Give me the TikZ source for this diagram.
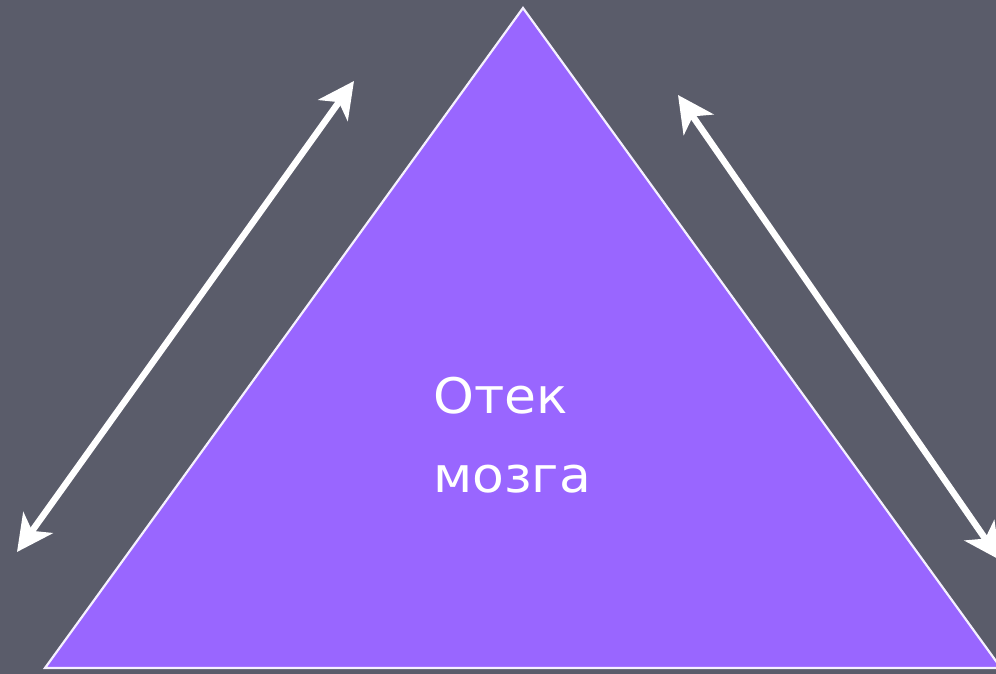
\documentclass[tikz,border=0pt]{standalone}
\usepackage{fontspec}
\setmainfont{DejaVu Sans}
\usetikzlibrary{arrows.meta}
\definecolor{bgc}{HTML}{5A5C6A}
\definecolor{tric}{HTML}{9966FF}
\tikzset{
  tip/.tip={Stealth[length=36pt,width=36pt,inset=10pt]},
  dblarrow/.style={draw=white, line width=6.5pt, tip-tip},
  label/.style={text=white, font=\fontsize{49}{79}\selectfont, align=left, inner sep=0pt}
}
\begin{document}
\begin{tikzpicture}[x=1pt,y=-1pt]
\fill[bgc] (0,0) rectangle (996,674);
\useasboundingbox (0,0) rectangle (996,674);
\coordinate (A) at (523,8);
\coordinate (B) at (45,668);
\coordinate (C) at (1001,668);
\filldraw[fill=tric, draw=white!90!tric, line width=2.2pt] (A) -- (B) -- (C) -- cycle;
\node[label, anchor=base west] (lbl) at (433,492) {\scalebox{1.06}[1]{Отек}\\\scalebox{1.06}[1]{мозга}};
\coordinate (L1) at (17,552);
\coordinate (L2) at (354,81);
\coordinate (R1) at (678,95);
\coordinate (R2) at (1000,560);
\draw[dblarrow] (L1) -- (L2);
\draw[dblarrow] (R1) -- (R2);
\end{tikzpicture}
\end{document}
